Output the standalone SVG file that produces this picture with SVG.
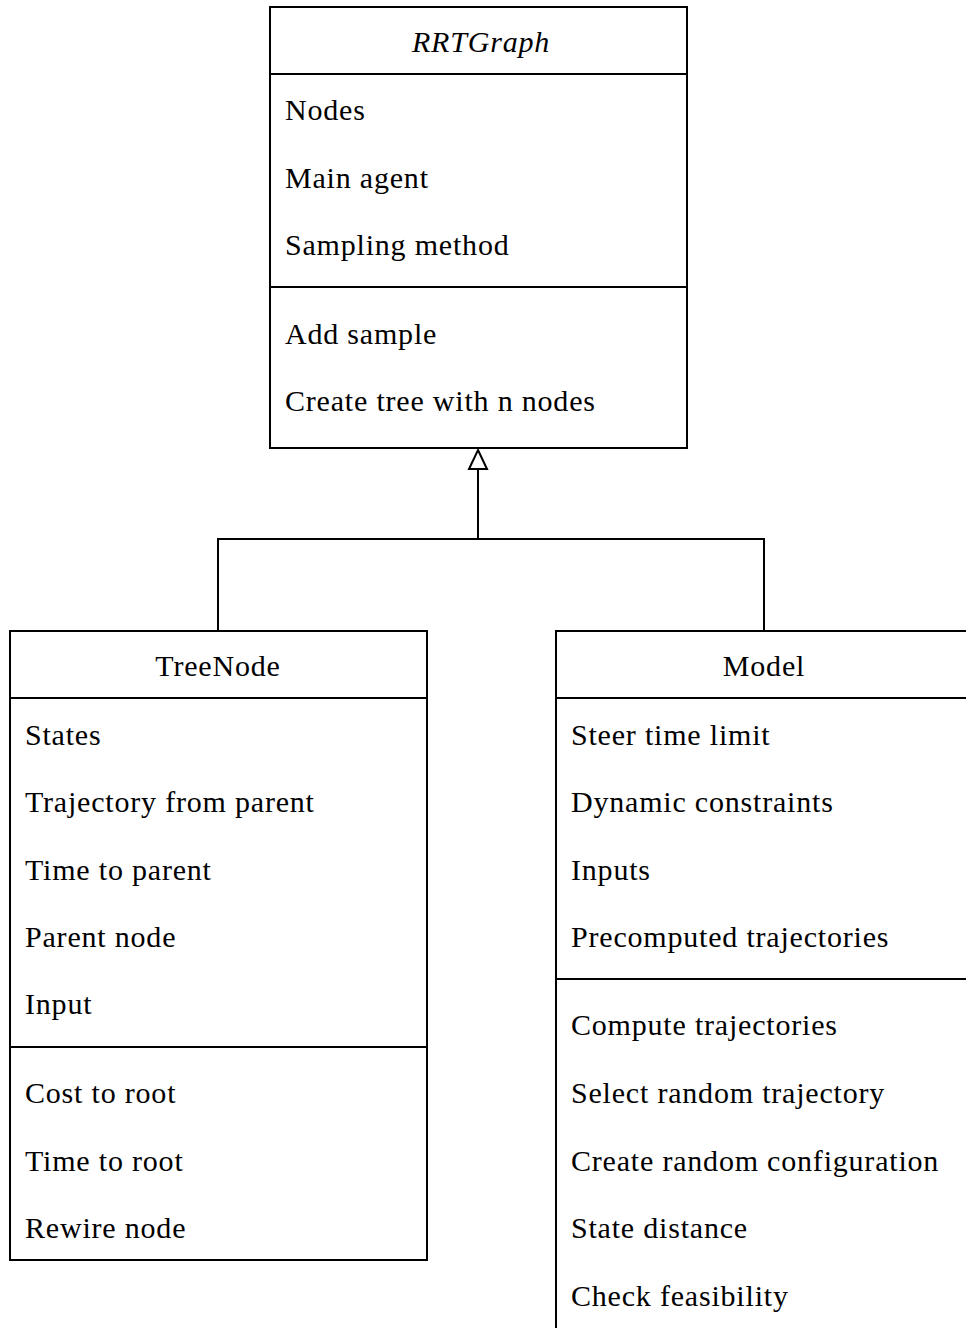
<svg xmlns="http://www.w3.org/2000/svg" width="966" height="1328" viewBox="0 0 966 1328">
<style>
.box{fill:#fff;stroke:#000;stroke-width:2}
.sep{stroke:#000;stroke-width:2}
.conn{fill:none;stroke:#000;stroke-width:2}
text{font-family:"Liberation Serif","Times New Roman",serif;font-size:30px;letter-spacing:0.8px;fill:#000}
.title{text-anchor:middle}
.it{font-style:italic}
</style>
<rect width="966" height="1328" fill="#fff"/>
<g id="connectors">
<path class="conn" d="M478,470 L478,539"/>
<path d="M478,450 L487,469 L469,469 Z" fill="#fff" stroke="#000" stroke-width="2"/>
<path class="conn" d="M218,631 L218,539 L764,539 L764,631"/>
</g>
<g id="RRTGraph">
<rect class="box" x="270" y="7" width="417" height="441"/>
<line class="sep" x1="270" y1="74" x2="687" y2="74"/>
<line class="sep" x1="270" y1="287" x2="687" y2="287"/>
<text class="title it" x="481" y="52">RRTGraph</text>
<text x="285" y="120">Nodes</text>
<text x="285" y="188">Main agent</text>
<text x="285" y="255">Sampling method</text>
<text x="285" y="344">Add sample</text>
<text x="285" y="411">Create tree with n nodes</text>
</g>
<g id="TreeNode">
<rect class="box" x="10" y="631" width="417" height="629"/>
<line class="sep" x1="10" y1="698" x2="427" y2="698"/>
<line class="sep" x1="10" y1="1047" x2="427" y2="1047"/>
<text class="title" x="218" y="676">TreeNode</text>
<text x="25" y="745">States</text>
<text x="25" y="812">Trajectory from parent</text>
<text x="25" y="880">Time to parent</text>
<text x="25" y="947">Parent node</text>
<text x="25" y="1014">Input</text>
<text x="25" y="1103">Cost to root</text>
<text x="25" y="1171">Time to root</text>
<text x="25" y="1238">Rewire node</text>
</g>
<g id="Model">
<rect class="box" x="556" y="631" width="417" height="720"/>
<line class="sep" x1="556" y1="698" x2="973" y2="698"/>
<line class="sep" x1="556" y1="979" x2="973" y2="979"/>
<text class="title" x="764" y="676">Model</text>
<text x="571" y="745">Steer time limit</text>
<text x="571" y="812">Dynamic constraints</text>
<text x="571" y="880">Inputs</text>
<text x="571" y="947">Precomputed trajectories</text>
<text x="571" y="1035">Compute trajectories</text>
<text x="571" y="1103">Select random trajectory</text>
<text x="571" y="1171">Create random configuration</text>
<text x="571" y="1238">State distance</text>
<text x="571" y="1306">Check feasibility</text>
</g>
</svg>
